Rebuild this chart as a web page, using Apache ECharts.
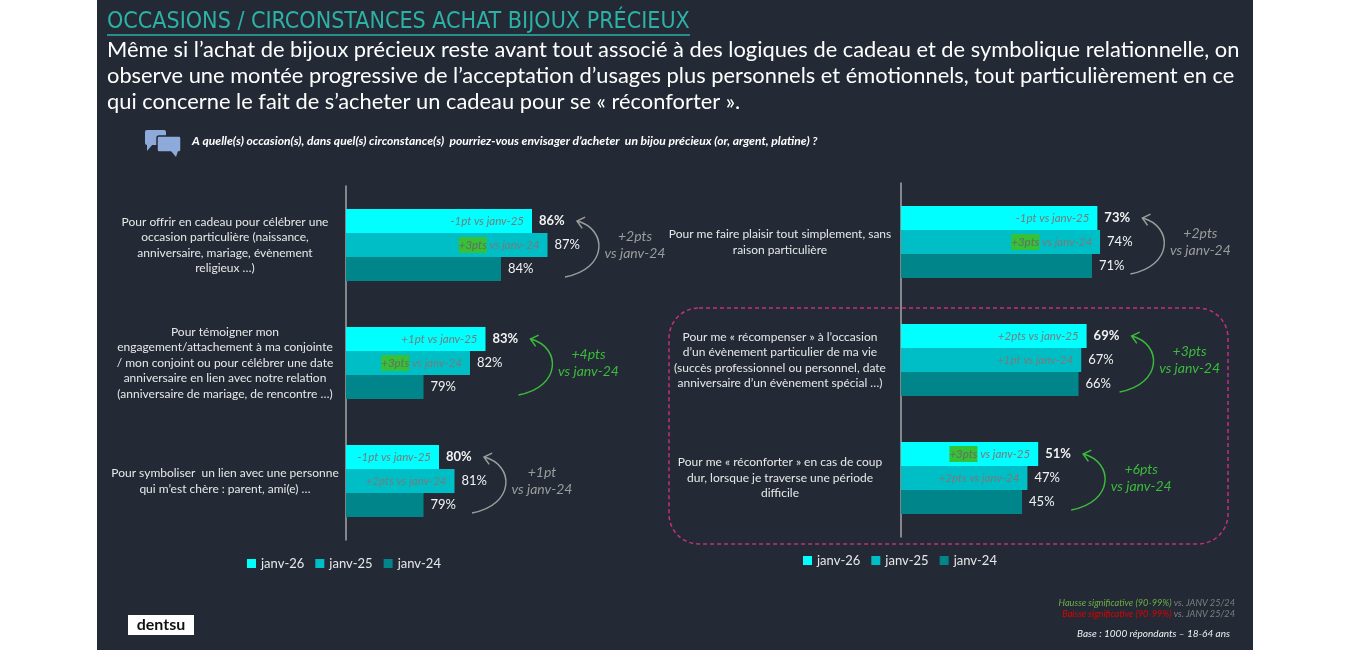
<!DOCTYPE html>
<html>
<head>
<meta charset="utf-8">
<script src="https://cdn.jsdelivr.net/npm/echarts@6/dist/echarts.min.js"></script>
<style>
  html, body { margin: 0; padding: 0; background: #fff; }
  #panel { position: absolute; left: 97px; top: 0; width: 1156px; height: 650px; background: #232a35; }
  #main { position: absolute; left: 0; top: 0; width: 1350px; height: 650px; }
</style>
</head>
<body>
<div id="panel"></div>
<div id="main"></div>
<script>
// ---- data ----
var seriesNames = ['janv-26', 'janv-25', 'janv-24'];

var catsLeft = [
  'Pour offrir en cadeau pour célébrer une\noccasion particulière (naissance,\nanniversaire, mariage, évènement\nreligieux …)',
  'Pour témoigner mon\nengagement/attachement à ma conjointe\n/ mon conjoint ou pour célébrer une date\nanniversaire en lien avec notre relation\n(anniversaire de mariage, de rencontre …)',
  'Pour symboliser  un lien avec une personne\nqui m’est chère : parent, ami(e) …'
];
var catsRight = [
  'Pour me faire plaisir tout simplement, sans\nraison particulière',
  'Pour me « récompenser » à l’occasion\nd’un évènement particulier de ma vie\n(succès professionnel ou personnel, date\nanniversaire d’un évènement spécial …)',
  'Pour me « réconforter » en cas de coup\ndur, lorsque je traverse une période\ndifficile'
];

var jan26Left = [86, 83, 80];
var jan25Left = [87, 82, 81];
var jan24Left = [84, 79, 79];
var jan26Right = [73, 69, 51];
var jan25Right = [74, 67, 47];
var jan24Right = [71, 66, 45];

// evolutions written in the bars
var d26vs25Left = [-1, 1, -1];
var sig26Left = [false, false, false];
var d25vs24Left = [3, 3, 2];
var sig25Left = [true, true, false];
var d26vs25Right = [-1, 2, 3];
var sig26Right = [false, false, true];
var d25vs24Right = [3, 1, 2];
var sig25Right = [true, false, false];

// evolutions janv-26 vs janv-24 (arrows)
var d26vs24Left = [2, 4, 1];
var sigArrowLeft = [false, true, false];
var d26vs24Right = [2, 3, 6];
var sigArrowRight = [false, true, true];

// ---- style ----
var FONT = 'Lato, "Open Sans", sans-serif';
var NARROW = '"Liberation Sans Narrow", "DejaVu Sans Condensed", Lato, sans-serif';
var colors = ['#00ffff', '#00bec5', '#00858a'];
var BAR = 24;
var GREEN = '#3cba3c';
var GREY = '#9c9c9c';

function fmtPts(v) {
  var a = Math.abs(v);
  return (v < 0 ? '-' : '+') + a + (a > 1 ? 'pts' : 'pt');
}

function fitSize(text, css, family, target, base) {
  var c = document.createElement('canvas').getContext('2d');
  c.font = css + ' ' + base + 'px ' + family;
  return base * target / c.measureText(text).width;
}

function valueSeries(i, data, xi, yi) {
  return {
    name: seriesNames[i], type: 'bar', xAxisIndex: xi, yAxisIndex: yi,
    data: data, barWidth: BAR, barGap: '0%', silent: true,
    itemStyle: { color: colors[i] },
    label: {
      show: true, position: 'right', distance: 7, formatter: '{c}%',
      color: '#f2f2f2', fontSize: 13, fontFamily: FONT,
      fontWeight: i === 0 ? 'bold' : 'normal'
    }
  };
}

function deltaSeries(data, deltas, sig, ref, xi, yi) {
  return {
    type: 'bar', xAxisIndex: xi, yAxisIndex: yi, data: data,
    barWidth: BAR, barGap: '0%', silent: true,
    itemStyle: { color: 'rgba(0,0,0,0)' },
    label: {
      show: !!deltas, position: 'insideRight', distance: 8,
      color: '#7a7a7a', fontSize: 11.5, fontStyle: 'italic', fontFamily: FONT,
      formatter: function (p) {
        var t = fmtPts(deltas[p.dataIndex]);
        return (sig[p.dataIndex] ? '{g|' + t + '}' : t) + ' vs ' + ref;
      },
      rich: {
        g: { backgroundColor: '#36c236', color: '#6a6a6a', fontSize: 11.5, fontStyle: 'italic', fontFamily: FONT, padding: [2, 0] }
      }
    }
  };
}

function catAxis(gi, data, visible) {
  return {
    gridIndex: gi, type: 'category', data: data, inverse: true, show: visible,
    axisLine: { show: true, lineStyle: { color: '#a6a6a6', width: 1.5 } },
    axisTick: { show: false },
    axisLabel: {
      color: '#e8e8e8', fontSize: 12, lineHeight: 15.5, fontFamily: FONT,
      align: 'center', margin: 121
    }
  };
}

function legendAt(left, top) {
  return {
    left: left, top: top, data: seriesNames, icon: 'rect', selectedMode: false,
    padding: 0, itemWidth: 9, itemHeight: 9, itemGap: 11,
    textStyle: { color: '#e8e8e8', fontSize: 13, fontFamily: FONT }
  };
}

var chart = echarts.init(document.getElementById('main'));

chart.setOption({
  backgroundColor: 'transparent',
  animation: false,
  grid: [
    { left: 346, top: 186, width: 248, height: 354 },
    { left: 901, top: 183, width: 269, height: 354 }
  ],
  xAxis: [
    { gridIndex: 0, type: 'value', min: 74, max: 90, show: false },
    { gridIndex: 1, type: 'value', min: 0, max: 100, show: false }
  ],
  yAxis: [
    catAxis(0, catsLeft, true),
    catAxis(0, catsLeft, false),
    catAxis(1, catsRight, true),
    catAxis(1, catsRight, false)
  ],
  legend: [legendAt(247, 557), legendAt(803, 554)],
  series: [
    valueSeries(0, jan26Left, 0, 0),
    valueSeries(1, jan25Left, 0, 0),
    valueSeries(2, jan24Left, 0, 0),
    deltaSeries(jan26Left, d26vs25Left, sig26Left, 'janv-25', 0, 1),
    deltaSeries(jan25Left, d25vs24Left, sig25Left, 'janv-24', 0, 1),
    deltaSeries(jan24Left, null, null, '', 0, 1),
    valueSeries(0, jan26Right, 1, 2),
    valueSeries(1, jan25Right, 1, 2),
    valueSeries(2, jan24Right, 1, 2),
    deltaSeries(jan26Right, d26vs25Right, sig26Right, 'janv-25', 1, 3),
    deltaSeries(jan25Right, d25vs24Right, sig25Right, 'janv-24', 1, 3),
    deltaSeries(jan24Right, null, null, '', 1, 3)
  ]
});

// ---- arrows janv-24 -> janv-26, placed from the axes ----
function arrows(xi, yi, v26, deltas, sig) {
  var out = [];
  for (var i = 0; i < v26.length; i++) {
    var p = chart.convertToPixel({ xAxisIndex: xi, yAxisIndex: yi }, [v26[i], i]);
    var tip = p[0] + 45, yTop = p[1] - BAR, yBot = p[1] + BAR + 8;
    var col = sig[i] ? GREEN : GREY;
    var cx = tip + 31, cy2 = yTop + 8;
    var dx = tip - cx, dy = yTop - cy2, len = Math.sqrt(dx * dx + dy * dy);
    dx /= len; dy /= len;
    var head = [];
    [0.7, -0.7].forEach(function (a) {
      var rx = dx * Math.cos(a) - dy * Math.sin(a);
      var ry = dx * Math.sin(a) + dy * Math.cos(a);
      head.push([tip - 9 * rx, yTop - 9 * ry]);
    });
    out.push({
      type: 'bezierCurve', silent: true,
      shape: { x1: tip - 12, y1: yBot, cpx1: cx, cpy1: yBot - 8, cpx2: cx, cpy2: cy2, x2: tip, y2: yTop },
      style: { stroke: col, lineWidth: 1.5, fill: null }
    });
    out.push({
      type: 'polyline', silent: true,
      shape: { points: [head[0], [tip, yTop], head[1]] },
      style: { stroke: col, lineWidth: 1.5, fill: null }
    });
    out.push({
      type: 'text', silent: true,
      style: {
        x: tip + 58, y: p[1], text: fmtPts(deltas[i]) + '\nvs janv-24',
        align: 'center', verticalAlign: 'middle', lineHeight: 17,
        fill: col, fontSize: 14, fontStyle: 'italic', fontFamily: FONT
      }
    });
  }
  return out;
}

var titleText = 'OCCASIONS / CIRCONSTANCES ACHAT BIJOUX PRÉCIEUX';
var subLines = [
  'Même si l’achat de bijoux précieux reste avant tout associé à des logiques de cadeau et de symbolique relationnelle, on',
  'observe une montée progressive de l’acceptation d’usages plus personnels et émotionnels, tout particulièrement en ce',
  'qui concerne le fait de s’acheter un cadeau pour se « réconforter ».'
];
var questionText = 'A quelle(s) occasion(s), dans quel(s) circonstance(s)  pourriez-vous envisager d’acheter  un bijou précieux (or, argent, platine) ?';

var titleSize = Math.min(26, fitSize(titleText, 'normal', NARROW, 583, 24));
var subSize = fitSize(subLines[0], 'normal', FONT, 1133, 22);
var qSize = fitSize(questionText, 'italic bold', FONT, 626, 10);

var g = [];
g.push({ type: 'text', silent: true, style: { x: 107, y: 22, text: titleText, fill: '#2db1a6', fontSize: titleSize, fontFamily: NARROW, verticalAlign: 'middle' } });
g.push({ type: 'line', silent: true, shape: { x1: 107, y1: 35, x2: 690, y2: 35 }, style: { stroke: '#2db1a6', lineWidth: 1.5 } });
subLines.forEach(function (t, i) {
  g.push({ type: 'text', silent: true, style: { x: 107, y: 50 + i * 26, text: t, fill: '#ffffff', fontSize: subSize, fontFamily: FONT, verticalAlign: 'middle' } });
});
// speech bubbles icon
g.push({ type: 'rect', silent: true, shape: { x: 145, y: 130, width: 21, height: 15, r: 2 }, style: { fill: '#8eaadb' } });
g.push({ type: 'polygon', silent: true, shape: { points: [[147, 144], [153, 144], [147, 151]] }, style: { fill: '#8eaadb' } });
g.push({ type: 'rect', silent: true, shape: { x: 157, y: 136, width: 24, height: 16, r: 2 }, style: { fill: '#8eaadb', stroke: '#232a35', lineWidth: 1.5 } });
g.push({ type: 'polygon', silent: true, shape: { points: [[171, 151], [178, 151], [176, 157]] }, style: { fill: '#8eaadb' } });
g.push({ type: 'text', silent: true, style: { x: 192, y: 141, text: questionText, fill: '#ffffff', fontSize: qSize, fontStyle: 'italic', fontWeight: 'bold', fontFamily: FONT, verticalAlign: 'middle' } });
// highlighted zone on the right
g.push({ type: 'rect', silent: true, shape: { x: 669, y: 308, width: 559, height: 236, r: 30 }, style: { fill: null, stroke: '#c2307a', lineWidth: 1.5, lineDash: [4, 3] } });
// dentsu logo
g.push({ type: 'rect', silent: true, shape: { x: 128, y: 615, width: 66, height: 20 }, style: { fill: '#ffffff' } });
g.push({ type: 'text', silent: true, style: { x: 161, y: 625, text: 'dentsu', fill: '#111111', fontSize: 16, fontWeight: 'bold', fontFamily: FONT, align: 'center', verticalAlign: 'middle' } });
// footnotes
var footRich = {
  g: { fill: '#70ad47', fontSize: 9.2, fontStyle: 'italic', fontFamily: FONT },
  r: { fill: '#e00000', fontSize: 9.2, fontStyle: 'italic', fontFamily: FONT },
  s: { fill: '#7f7f7f', fontSize: 9.2, fontStyle: 'italic', fontFamily: FONT }
};
g.push({ type: 'text', silent: true, style: { x: 1235, y: 603, text: '{g|Hausse significative (90-99%)}{s| vs. JANV 25/24}', rich: footRich, align: 'right', verticalAlign: 'middle' } });
g.push({ type: 'text', silent: true, style: { x: 1235, y: 614, text: '{r|Baisse significative (90-99%)}{s| vs. JANV 25/24}', rich: footRich, align: 'right', verticalAlign: 'middle' } });
g.push({ type: 'text', silent: true, style: { x: 1230, y: 634, text: 'Base : 1000 répondants – 18-64 ans', fill: '#f0f0f0', fontSize: 10, fontStyle: 'italic', fontFamily: FONT, align: 'right', verticalAlign: 'middle' } });

g = g.concat(arrows(0, 0, jan26Left, d26vs24Left, sigArrowLeft));
g = g.concat(arrows(1, 2, jan26Right, d26vs24Right, sigArrowRight));

chart.setOption({ graphic: g });
</script>
</body>
</html>
